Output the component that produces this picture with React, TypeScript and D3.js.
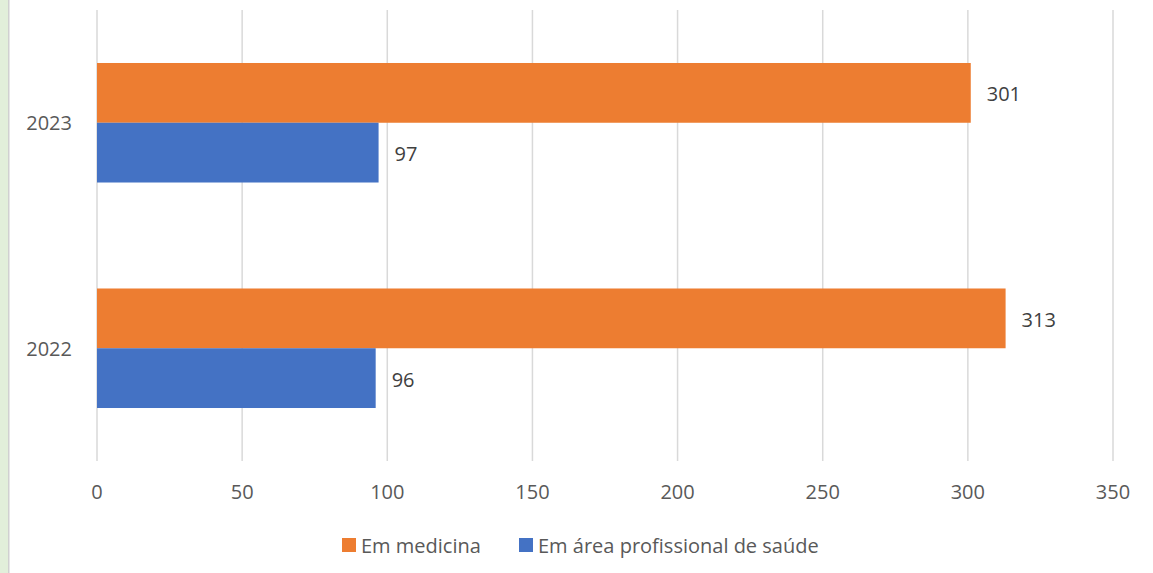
import React, { useEffect, useRef } from "react";
import * as d3 from "d3";

const years = ["2023", "2022"];
const seriesNames = ["Em medicina", "Em área profissional de saúde"];
const medicina = [301, 313];
const saude = [97, 96];
const xTicks = [0, 50, 100, 150, 200, 250, 300, 350];
const colors = ["#ED7D31", "#4472C4"];

const W = 1153;
const H = 573;
const FONT = "'Open Sans', 'Liberation Sans', sans-serif";
const FS = "20px";

const App = () => {
  const svgRef = useRef<SVGSVGElement>(null);

  useEffect(() => {
    const svg = d3.select(svgRef.current);
    svg.selectAll("*").remove();

    const margin = { top: 10, right: 40, bottom: 112, left: 97 };
    const width = W - margin.left - margin.right;
    const height = H - margin.top - margin.bottom;

    svg.append("rect").attr("width", W).attr("height", H).attr("fill", "#fff");
    // left page border
    svg.append("rect").attr("x", 0).attr("y", 0).attr("width", 8).attr("height", H).attr("fill", "#E2EFDA");
    svg.append("rect").attr("x", 8).attr("y", 0).attr("width", 1.5).attr("height", H).attr("fill", "#D0D0D0");

    const g = svg.append("g").attr("transform", `translate(${margin.left},${margin.top})`);

    const x = d3.scaleLinear().domain([0, 350]).range([0, width]);
    const y = d3.scaleBand().domain(years).range([0, height]).paddingInner(0).paddingOuter(0);
    const inner = d3
      .scaleBand()
      .domain(seriesNames)
      .range([y.bandwidth() * 0.235, y.bandwidth() * 0.765]);

    // gridlines
    g.selectAll(".grid")
      .data(xTicks)
      .enter()
      .append("line")
      .attr("x1", (d) => x(d))
      .attr("x2", (d) => x(d))
      .attr("y1", 0)
      .attr("y2", height)
      .attr("stroke", "#D9D9D9")
      .attr("stroke-width", 1.5);

    g.selectAll(".xtick")
      .data(xTicks)
      .enter()
      .append("text")
      .attr("x", (d) => x(d))
      .attr("y", height + 30)
      .attr("text-anchor", "middle")
      .attr("dominant-baseline", "central")
      .style("font-family", FONT)
      .style("font-size", FS)
      .style("fill", "#595959")
      .text((d) => d);

    g.selectAll(".ylab")
      .data(years)
      .enter()
      .append("text")
      .attr("x", -25)
      .attr("y", (d) => (y(d) as number) + y.bandwidth() / 2)
      .attr("text-anchor", "end")
      .attr("dominant-baseline", "central")
      .style("font-family", FONT)
      .style("font-size", FS)
      .style("fill", "#595959")
      .text((d) => d);

    const rows = years.flatMap((yr, i) => [
      { year: yr, series: seriesNames[0], value: medicina[i], color: colors[0] },
      { year: yr, series: seriesNames[1], value: saude[i], color: colors[1] },
    ]);

    g.selectAll(".bar")
      .data(rows)
      .enter()
      .append("rect")
      .attr("x", x(0))
      .attr("y", (d) => (y(d.year) as number) + (inner(d.series) as number))
      .attr("width", (d) => x(d.value) - x(0))
      .attr("height", inner.bandwidth())
      .attr("fill", (d) => d.color);

    g.selectAll(".val")
      .data(rows)
      .enter()
      .append("text")
      .attr("x", (d) => x(d.value) + 16)
      .attr("y", (d) => (y(d.year) as number) + (inner(d.series) as number) + inner.bandwidth() / 2 + 1)
      .attr("dominant-baseline", "central")
      .style("font-family", FONT)
      .style("font-size", FS)
      .style("fill", "#404040")
      .text((d) => d.value);

    // legend
    const legendX = [342, 519];
    const lg = svg.append("g");
    seriesNames.forEach((name, i) => {
      lg.append("rect")
        .attr("x", legendX[i])
        .attr("y", 538)
        .attr("width", 14)
        .attr("height", 14)
        .attr("fill", colors[i]);
      lg.append("text")
        .attr("x", legendX[i] + 19)
        .attr("y", 545)
        .attr("dominant-baseline", "central")
        .style("font-family", FONT)
        .style("font-size", FS)
        .style("fill", "#595959")
        .text(name);
    });
  }, []);

  return (
    <div style={{ position: "fixed", left: 0, top: 0 }}>
      <svg ref={svgRef} width={W} height={H} style={{ display: "block" }} />
    </div>
  );
};

export default App;
